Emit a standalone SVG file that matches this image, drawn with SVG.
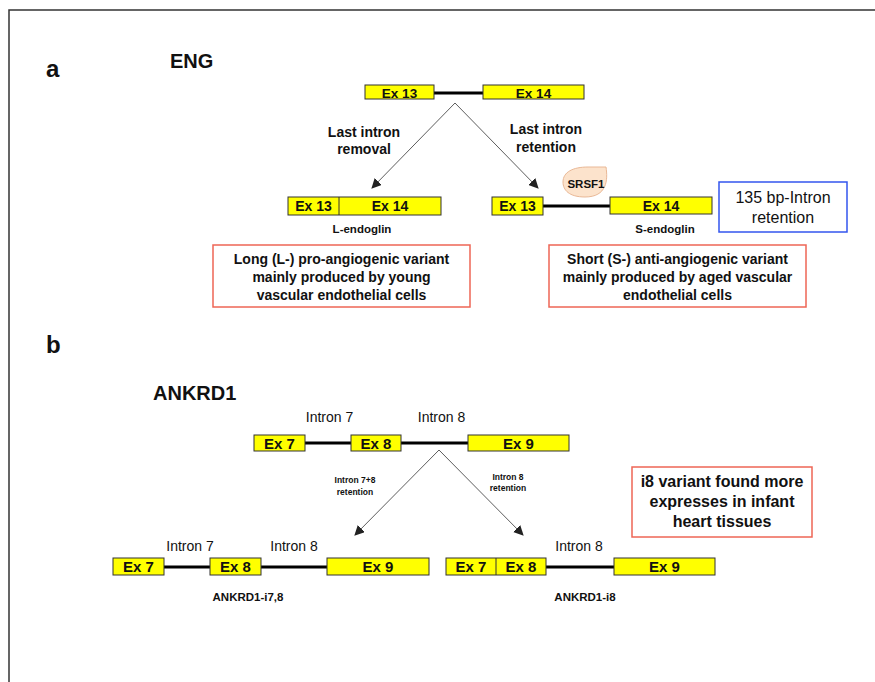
<svg xmlns="http://www.w3.org/2000/svg" width="875" height="682" viewBox="0 0 875 682">
<defs>
<style>
text{font-family:"Liberation Sans",Arial,sans-serif;fill:#111}
.b{font-weight:bold}
.m{text-anchor:middle}
.ex{fill:#FFFF00;stroke:#333;stroke-width:1}
.intron{stroke:#000;stroke-width:3;fill:none}
.arr{stroke:#333;stroke-width:0.8;fill:none;marker-end:url(#ah)}
.red{fill:#fff;stroke:#EE6655;stroke-width:1.5}
.blue{fill:#fff;stroke:#3355EE;stroke-width:1.5}
</style>
<marker id="ah" viewBox="0 0 10 10" refX="9" refY="5" markerWidth="10" markerHeight="10" markerUnits="userSpaceOnUse" orient="auto">
<path d="M0,0 L10,5 L0,10 Z" fill="#222"/>
</marker>
</defs>
<rect width="875" height="682" fill="#fff"/>
<rect x="9" y="10" width="900" height="700" fill="none" stroke="#333" stroke-width="1.5"/>

<g id="label-a"><text x="46" y="77" class="b" font-size="24">a</text></g>
<g id="title-eng"><text x="170" y="68" class="b" font-size="20">ENG</text></g>

<g id="connectors">
<line class="intron" x1="434" y1="93" x2="483" y2="93"/>
<line class="intron" x1="543" y1="206" x2="610" y2="206"/>
<line class="intron" x1="305" y1="443" x2="351" y2="443"/>
<line class="intron" x1="401" y1="443" x2="468" y2="443"/>
<line class="intron" x1="164" y1="567" x2="210" y2="567"/>
<line class="intron" x1="261" y1="567" x2="327" y2="567"/>
<line class="intron" x1="546" y1="567" x2="614" y2="567"/>
<polyline class="arr" points="455,103 372,188"/>
<polyline class="arr" points="455,103 538,188"/>
<polyline class="arr" points="439,450 355,535"/>
<polyline class="arr" points="439,450 523,535"/>
</g>

<g id="eng-pre">
<rect class="ex" x="365" y="85" width="69" height="14"/>
<text x="399.5" y="97.5" class="b m" font-size="13.5">Ex 13</text>
<rect class="ex" x="483" y="85" width="101" height="14"/>
<text x="533.5" y="97.5" class="b m" font-size="13.5">Ex 14</text>
</g>

<g id="label-removal">
<text x="364" y="137" class="b m" font-size="14">Last intron</text>
<text x="364" y="154" class="b m" font-size="14">removal</text>
</g>
<g id="label-retention">
<text x="546" y="134" class="b m" font-size="14">Last intron</text>
<text x="546" y="152" class="b m" font-size="14">retention</text>
</g>

<g id="l-endoglin">
<rect class="ex" x="288" y="197" width="153" height="18"/>
<line x1="339" y1="197" x2="339" y2="215" stroke="#333" stroke-width="1"/>
<text x="313.5" y="211" class="b m" font-size="14">Ex 13</text>
<text x="390" y="211" class="b m" font-size="14">Ex 14</text>
<text x="362" y="233" class="b m" font-size="11.5">L-endoglin</text>
</g>

<g id="s-endoglin">
<rect class="ex" x="492" y="197" width="51" height="18"/>
<text x="517.5" y="211" class="b m" font-size="14">Ex 13</text>
<rect class="ex" x="610" y="197" width="102" height="17"/>
<text x="661" y="211" class="b m" font-size="14">Ex 14</text>
<text x="665" y="233" class="b m" font-size="11.5">S-endoglin</text>
</g>

<g id="srsf1">
<path d="M606,167 C608,180 607,197 585,197 C569,197 563,190 563,182 C563,172 573,167 588,167 Z" fill="#FCE3CC" stroke="#E9B896" stroke-width="1"/>
<text x="586" y="188" class="b m" font-size="11.5">SRSF1</text>
</g>

<g id="intron-box">
<rect class="blue" x="719" y="182" width="128" height="50"/>
<text x="783" y="203" class="m" font-size="16">135 bp-Intron</text>
<text x="783" y="223" class="m" font-size="16">retention</text>
</g>

<g id="long-note">
<rect class="red" x="213" y="245" width="257" height="62"/>
<text x="341.5" y="264" class="b m" font-size="14">Long (L-) pro-angiogenic variant</text>
<text x="341.5" y="282" class="b m" font-size="14">mainly produced by young</text>
<text x="341.5" y="300" class="b m" font-size="14">vascular endothelial cells</text>
</g>
<g id="short-note">
<rect class="red" x="549" y="245" width="257" height="62"/>
<text x="677.5" y="264" class="b m" font-size="14">Short (S-) anti-angiogenic variant</text>
<text x="677.5" y="282" class="b m" font-size="14">mainly produced by aged vascular</text>
<text x="677.5" y="300" class="b m" font-size="14">endothelial cells</text>
</g>

<g id="label-b"><text x="46" y="353" class="b" font-size="24">b</text></g>
<g id="title-ankrd1"><text x="153" y="400" class="b" font-size="20">ANKRD1</text></g>

<g id="ankrd1-pre">
<text x="329.5" y="422" class="m" font-size="14">Intron 7</text>
<text x="441.5" y="422" class="m" font-size="14">Intron 8</text>
<rect class="ex" x="254" y="435" width="51" height="16"/>
<text x="279.5" y="448.5" class="b m" font-size="15">Ex 7</text>
<rect class="ex" x="351" y="435" width="50" height="16"/>
<text x="376" y="448.5" class="b m" font-size="15">Ex 8</text>
<rect class="ex" x="468" y="435" width="101" height="16"/>
<text x="518.5" y="448.5" class="b m" font-size="15">Ex 9</text>
</g>

<g id="label-i78">
<text x="355" y="483" class="b m" font-size="8.5">Intron 7+8</text>
<text x="355" y="495" class="b m" font-size="8.5">retention</text>
</g>
<g id="label-i8">
<text x="508" y="480" class="b m" font-size="8.5">Intron 8</text>
<text x="508" y="491" class="b m" font-size="8.5">retention</text>
</g>

<g id="i8-note">
<rect class="red" x="632" y="467" width="180" height="70"/>
<text x="722" y="487" class="b m" font-size="16">i8 variant found more</text>
<text x="722" y="507" class="b m" font-size="16">expresses in infant</text>
<text x="722" y="527" class="b m" font-size="16">heart tissues</text>
</g>

<g id="ankrd1-i78">
<text x="190" y="551" class="m" font-size="14">Intron 7</text>
<text x="294" y="551" class="m" font-size="14">Intron 8</text>
<rect class="ex" x="113" y="558" width="51" height="17"/>
<text x="138.5" y="572" class="b m" font-size="15">Ex 7</text>
<rect class="ex" x="210" y="558" width="51" height="17"/>
<text x="235.5" y="572" class="b m" font-size="15">Ex 8</text>
<rect class="ex" x="327" y="558" width="102" height="17"/>
<text x="378" y="572" class="b m" font-size="15">Ex 9</text>
<text x="248" y="601" class="b m" font-size="11.5">ANKRD1-i7,8</text>
</g>

<g id="ankrd1-i8">
<text x="579" y="551" class="m" font-size="14">Intron 8</text>
<rect class="ex" x="446" y="558" width="100" height="17"/>
<line x1="496" y1="558" x2="496" y2="575" stroke="#333" stroke-width="1"/>
<text x="471" y="572" class="b m" font-size="15">Ex 7</text>
<text x="521" y="572" class="b m" font-size="15">Ex 8</text>
<rect class="ex" x="614" y="558" width="101" height="17"/>
<text x="664.5" y="572" class="b m" font-size="15">Ex 9</text>
<text x="585" y="601" class="b m" font-size="11.5">ANKRD1-i8</text>
</g>
</svg>
